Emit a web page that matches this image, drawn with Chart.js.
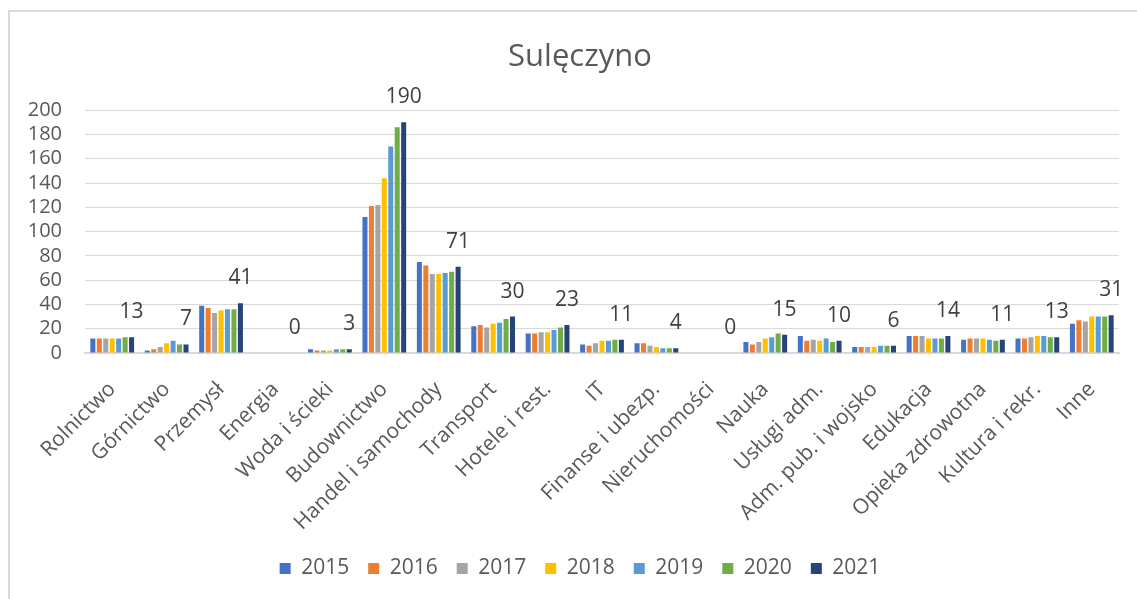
<!DOCTYPE html>
<html>
<head>
<meta charset="utf-8">
<script src="https://cdn.jsdelivr.net/npm/chart.js@4.4.0/dist/chart.umd.min.js"></script>
<style>
  html, body { margin: 0; padding: 0; background: #ffffff; overflow: hidden; width: 1137px; height: 599px; }
  #frame { position: absolute; left: 8px; top: 10px; width: 1160px; height: 620px; border: 2px solid #d9d9d9; box-sizing: border-box; }
  #c { position: absolute; left: 0; top: 0; }
</style>
</head>
<body>
<div id="frame"></div>
<canvas id="c" width="1160" height="599"></canvas>
<script>
const title = 'Sulęczyno';
const categories = ['Rolnictwo', 'Górnictwo', 'Przemysł', 'Energia', 'Woda i ścieki', 'Budownictwo',
  'Handel i samochody', 'Transport', 'Hotele i rest.', 'IT', 'Finanse i ubezp.', 'Nieruchomości',
  'Nauka', 'Usługi adm.', 'Adm. pub. i wojsko', 'Edukacja', 'Opieka zdrowotna', 'Kultura i rekr.', 'Inne'];
const years = ['2015', '2016', '2017', '2018', '2019', '2020', '2021'];
const v2015 = [12, 2, 39, 0, 3, 112, 75, 22, 16, 7, 8, 0, 9, 14, 5, 14, 11, 12, 24];
const v2016 = [12, 3, 37, 0, 2, 121, 72, 23, 16, 6, 8, 0, 7, 10, 5, 14, 12, 12, 27];
const v2017 = [12, 5, 33, 0, 2, 122, 65, 21, 17, 8, 6, 0, 9, 11, 5, 14, 12, 13, 26];
const v2018 = [12, 8, 35, 0, 2, 144, 65, 24, 17, 10, 5, 0, 12, 10, 5, 12, 12, 14, 30];
const v2019 = [12, 10, 36, 0, 3, 170, 66, 25, 19, 10, 4, 0, 13, 12, 6, 12, 11, 14, 30];
const v2020 = [13, 7, 36, 0, 3, 186, 67, 28, 21, 11, 4, 0, 16, 9, 6, 12, 10, 13, 30];
const v2021 = [13, 7, 41, 0, 3, 190, 71, 30, 23, 11, 4, 0, 15, 10, 6, 14, 11, 13, 31];
const seriesValues = [v2015, v2016, v2017, v2018, v2019, v2020, v2021];
const colors = ['#4472C4', '#ED7D31', '#A5A5A5', '#FFC000', '#5B9BD5', '#70AD47', '#264478'];
const yTicks = [0, 20, 40, 60, 80, 100, 120, 140, 160, 180, 200];

const FONT = "'Open Sans', 'DejaVu Sans', sans-serif";

const lastLabels = {
  id: 'lastLabels',
  afterDatasetsDraw(chart) {
    const idx = chart.data.datasets.length - 1;
    const meta = chart.getDatasetMeta(idx);
    const data = chart.data.datasets[idx].data;
    const ctx = chart.ctx;
    ctx.save();
    ctx.font = '21px ' + FONT;
    ctx.fillStyle = '#404040';
    ctx.textAlign = 'center';
    ctx.textBaseline = 'middle';
    meta.data.forEach((el, i) => {
      ctx.fillText(String(data[i]), el.x, el.y - 25);
    });
    ctx.restore();
  }
};

new Chart(document.getElementById('c'), {
  type: 'bar',
  data: {
    labels: categories,
    datasets: years.map((y, i) => ({
      label: y,
      data: seriesValues[i],
      backgroundColor: colors[i],
      borderWidth: 0,
      categoryPercentage: 0.83,
      barPercentage: 0.78
    }))
  },
  options: {
    responsive: false,
    animation: false,
    devicePixelRatio: 1,
    layout: { padding: { left: 0, right: 0, top: 0, bottom: 10 } },
    plugins: {
      title: {
        display: true,
        text: title,
        color: '#595959',
        font: { family: FONT, size: 31, weight: 'normal', lineHeight: 1.2 },
        padding: { top: 39, bottom: 34 }
      },
      legend: {
        display: true,
        position: 'bottom',
        labels: {
          color: '#595959',
          font: { family: FONT, size: 21 },
          boxWidth: 11,
          boxHeight: 11,
          padding: 19
        }
      },
      tooltip: { enabled: false }
    },
    scales: {
      x: {
        grid: { display: false, drawTicks: false },
        border: { display: true, color: '#d9d9d9', width: 2 },
        ticks: {
          color: '#595959',
          font: { family: FONT, size: 21 },
          autoSkip: false,
          minRotation: 45,
          maxRotation: 45,
          padding: 24
        },
        afterFit(scale) { scale.height = 186; }
      },
      y: {
        min: 0,
        max: 200,
        grid: { color: '#d9d9d9', lineWidth: 1, drawTicks: false },
        border: { display: false },
        afterBuildTicks(scale) { scale.ticks = yTicks.map(v => ({ value: v })); },
        ticks: {
          color: '#595959',
          font: { family: FONT, size: 20 },
          autoSkip: false,
          padding: 23
        },
        afterFit(scale) { scale.width = 85; }
      },
      yRight: {
        position: 'right',
        display: true,
        min: 0,
        max: 200,
        grid: { display: false, drawTicks: false },
        border: { display: false },
        ticks: { display: false },
        afterFit(scale) { scale.width = 41; }
      }
    }
  },
  plugins: [lastLabels]
});
</script>
</body>
</html>
